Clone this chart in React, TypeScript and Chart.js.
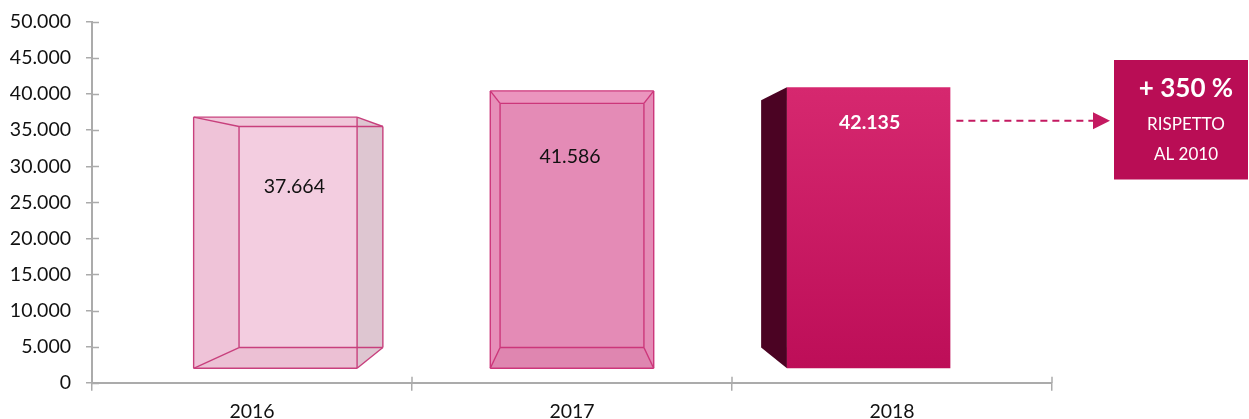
import React, { useEffect, useRef } from "react";
import { Chart, registerables } from "chart.js";

Chart.register(...registerables);

const categories = ["2016", "2017", "2018"];
const values = [37664, 41586, 42135];
const valueLabels = ["37.664", "41.586", "42.135"];
const yMin = 0;
const yMax = 50000;
const yStep = 5000;
const calloutLines = ["+ 350 %", "RISPETTO", "AL 2010"];

const FONT = "Lato, 'Open Sans', sans-serif";
const W = 1249;
const H = 419;

const fmt = (n: number) => String(n).replace(/\B(?=(\d{3})+(?!\d))/g, ".");

type Pt = [number, number];

const barStyles = [
  {
    kind: "wire",
    back: "#f3cde0",
    top: "#f0c7da",
    bottom: "#ecc0d4",
    left: "#efc3d8",
    right: "#dec6d1",
    edge: "#c8407d",
    label: { color: "#111111", bold: false, dx: 19, dy: 70 },
  },
  {
    kind: "bevel",
    back: "#e48bb6",
    top: "#eb95be",
    bottom: "#df86b0",
    left: "#e78fb9",
    right: "#e58cb6",
    edge: "#cc367a",
    label: { color: "#111111", bold: false, dx: -2, dy: 66 },
  },
  {
    kind: "solid",
    side: "#4b0323",
    frontTop: "#d6286f",
    frontBottom: "#bd0e58",
    label: { color: "#ffffff", bold: true, dx: 1, dy: 35 },
  },
];

const poly = (ctx: CanvasRenderingContext2D, pts: Pt[], fill: string | CanvasGradient) => {
  ctx.beginPath();
  ctx.moveTo(pts[0][0], pts[0][1]);
  for (let i = 1; i < pts.length; i++) ctx.lineTo(pts[i][0], pts[i][1]);
  ctx.closePath();
  ctx.fillStyle = fill;
  ctx.fill();
};

const line = (ctx: CanvasRenderingContext2D, a: Pt, b: Pt) => {
  ctx.beginPath();
  ctx.moveTo(a[0], a[1]);
  ctx.lineTo(b[0], b[1]);
  ctx.stroke();
};

const box3dPlugin = {
  id: "box3d",
  afterDraw(chart: any) {
    const ctx: CanvasRenderingContext2D = chart.ctx;
    const ca = chart.chartArea;
    // inner cross ticks (Excel style)
    ctx.save();
    ctx.strokeStyle = "#ababab";
    ctx.lineWidth = 1.5;
    const ys = chart.scales.y;
    ys.ticks.forEach((t: any) => {
      const py = Math.round(ys.getPixelForValue(t.value)) + 0.5;
      line(ctx, [ca.left, py], [ca.left + 7, py]);
    });
    const n = categories.length;
    for (let i = 0; i <= n; i++) {
      const px = ca.left + ((ca.right - ca.left) * i) / n;
      line(ctx, [px, ca.bottom], [px, ca.bottom - 6]);
    }
    ctx.restore();

    const vx = (ca.left + ca.right) / 2;
    const vy = ca.top + 0.48 * (ca.bottom - ca.top);
    const sF = 0.927;
    const sB = sF * 0.88;
    const meta = chart.getDatasetMeta(0);
    const p = (px: number, py: number, s: number): Pt => [vx + s * (px - vx), vy + s * (py - vy)];

    let lastFront: Pt[] = [];
    let lastLabel: Pt = [0, 0];
    meta.data.forEach((el: any, i: number) => {
      const { x, y, base, width } = el.getProps(["x", "y", "base", "width"], true);
      const l = x - width / 2;
      const r = x + width / 2;
      const F: Pt[] = [p(l, y, sF), p(r, y, sF), p(r, base, sF), p(l, base, sF)];
      const B: Pt[] = [p(l, y, sB), p(r, y, sB), p(r, base, sB), p(l, base, sB)];
      const st: any = barStyles[i];
      ctx.save();
      if (st.kind === "solid") {
        poly(ctx, [F[0], B[0], B[3], F[3]], st.side);
        const g = ctx.createLinearGradient(0, F[0][1], 0, F[3][1]);
        g.addColorStop(0, st.frontTop);
        g.addColorStop(1, st.frontBottom);
        poly(ctx, F, g);
      } else {
        poly(ctx, B, st.back);
        poly(ctx, [F[0], B[0], B[3], F[3]], st.left);
        poly(ctx, [F[0], F[1], B[1], B[0]], st.top);
        poly(ctx, [F[3], F[2], B[2], B[3]], st.bottom);
        poly(ctx, [F[1], B[1], B[2], F[2]], st.right);
        ctx.strokeStyle = st.edge;
        ctx.lineWidth = 1.4;
        for (let k = 0; k < 4; k++) {
          line(ctx, F[k], F[(k + 1) % 4]);
          line(ctx, B[k], B[(k + 1) % 4]);
          line(ctx, F[k], B[k]);
        }
      }
      const cx = (F[0][0] + F[1][0]) / 2 + st.label.dx;
      const cy = F[0][1] + st.label.dy;
      ctx.font = `${st.label.bold ? "bold " : ""}19.5px ${FONT}`;
      ctx.fillStyle = st.label.color;
      ctx.textAlign = "center";
      ctx.textBaseline = "middle";
      ctx.fillText(valueLabels[i], cx, cy);
      ctx.restore();
      lastFront = F;
      lastLabel = [cx, cy];
    });

    // callout arrow + box
    ctx.save();
    const ay = lastLabel[1] - 1.5;
    const ax0 = lastFront[1][0] + 6;
    const boxL = 1114;
    const boxT = 60;
    const boxB = 179.5;
    ctx.strokeStyle = "#c41a61";
    ctx.lineWidth = 2;
    ctx.setLineDash([7, 5]);
    line(ctx, [ax0, ay], [boxL - 21, ay]);
    ctx.setLineDash([]);
    poly(ctx, [[boxL - 21, ay - 8.5], [boxL - 4, ay], [boxL - 21, ay + 8.5]], "#c41a61");
    poly(ctx, [[boxL, boxT], [W - 1, boxT], [W - 1, boxB], [boxL, boxB]], "#b90d55");
    ctx.fillStyle = "#ffffff";
    ctx.textAlign = "center";
    ctx.textBaseline = "middle";
    const tx = 1186;
    ctx.font = `bold 26px ${FONT}`;
    ctx.fillText(calloutLines[0], tx, 89);
    ctx.font = `17px ${FONT}`;
    ctx.fillText(calloutLines[1], tx, 125);
    ctx.fillText(calloutLines[2], tx, 155);
    ctx.restore();
  },
};

export default function App() {
  const ref = useRef<HTMLCanvasElement | null>(null);
  useEffect(() => {
    if (!ref.current) return;
    const chart = new Chart(ref.current, {
      type: "bar",
      data: {
        labels: categories,
        datasets: [
          {
            data: values,
            backgroundColor: "rgba(0,0,0,0)",
            borderWidth: 0,
            barPercentage: 0.551,
            categoryPercentage: 1,
          },
        ],
      },
      options: {
        animation: false,
        responsive: false,
        events: [],
        layout: { padding: { top: 22, right: W - 1052, bottom: 0, left: 0 } },
        plugins: { legend: { display: false }, tooltip: { enabled: false } },
        scales: {
          x: {
            offset: true,
            grid: {
              display: true,
              drawOnChartArea: false,
              offset: true,
              tickLength: 8,
              color: "#ababab",
              tickColor: "#ababab",
              lineWidth: 1.5,
            },
            border: { display: true, color: "#ababab", width: 2 },
            ticks: { color: "#111111", font: { family: FONT, size: 19.5 }, padding: 9 },
            afterFit: (s: any) => {
              s.height = H - 382.7;
            },
          },
          y: {
            min: yMin,
            max: yMax,
            grid: {
              display: true,
              drawOnChartArea: false,
              tickLength: 6,
              color: "#ababab",
              tickColor: "#ababab",
              lineWidth: 1.5,
            },
            border: { display: true, color: "#ababab", width: 2 },
            ticks: {
              stepSize: yStep,
              color: "#111111",
              font: { family: FONT, size: 19.5 },
              padding: 15,
              callback: (v: any) => fmt(Number(v)),
            },
            afterFit: (s: any) => {
              s.width = 92;
              s.paddingTop = 0;
              s.paddingBottom = 0;
            },
          },
        },
      },
      plugins: [box3dPlugin],
    });
    return () => chart.destroy();
  }, []);
  return (
    <div style={{ position: "absolute", left: 0, top: 0, width: W, height: H, background: "#fff" }}>
      <canvas ref={ref} width={W} height={H} />
    </div>
  );
}
